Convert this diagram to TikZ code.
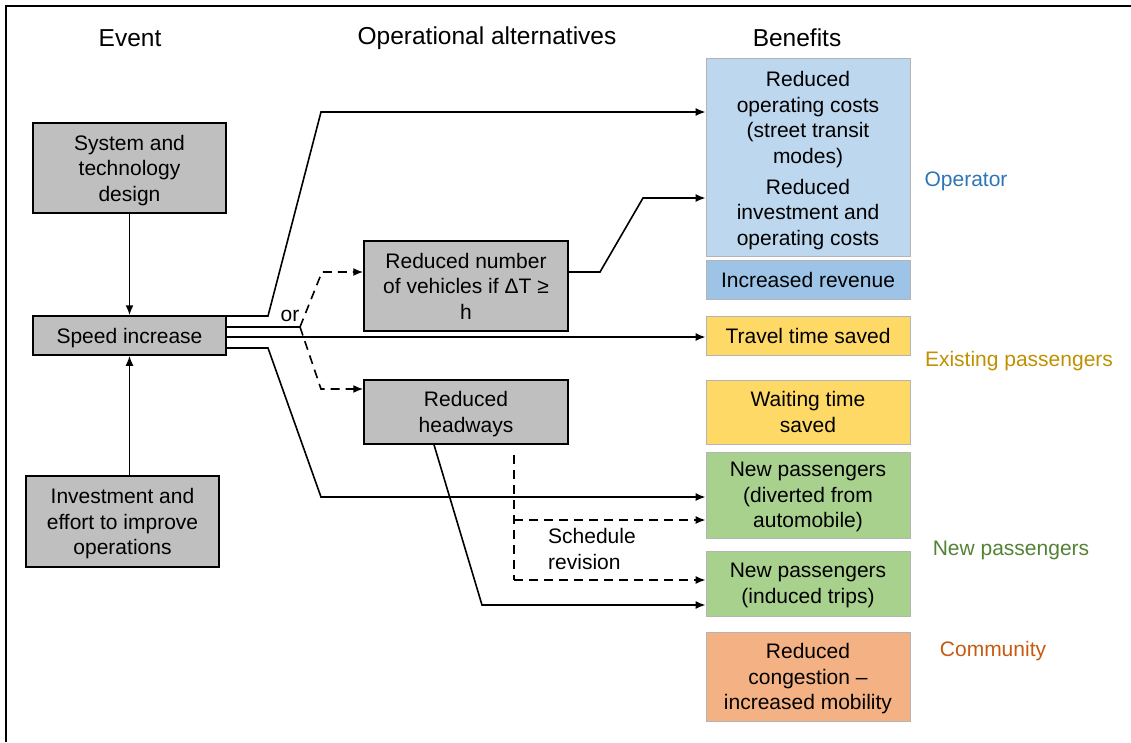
\documentclass[tikz,border=0pt]{standalone}
\usepackage{fontspec}
\setmainfont{Liberation Sans}
\usetikzlibrary{arrows.meta,calc}
\definecolor{gfill}{HTML}{BFBFBF}
\definecolor{bord}{HTML}{B4B4B4}
\definecolor{lblue}{HTML}{BDD7EE}
\definecolor{mblue}{HTML}{9DC3E6}
\definecolor{yel}{HTML}{FFD966}
\definecolor{grn}{HTML}{A9D18E}
\definecolor{org}{HTML}{F4B183}
\definecolor{copr}{HTML}{2E75B6}
\definecolor{cexi}{HTML}{BF9000}
\definecolor{cnew}{HTML}{548235}
\definecolor{ccom}{HTML}{C55A11}
\begin{document}
\begin{tikzpicture}[x=1pt,y=-1pt,
  txt/.style={font=\fontsize{21}{25.5}\selectfont, align=center, inner sep=0pt, text depth=0pt},
  head/.style={font=\fontsize{24.5}{28}\selectfont, inner sep=0pt},
  gbox/.style={txt, draw=black, line width=1.5pt, fill=gfill},
  bbox/.style={txt, draw=bord, line width=0.8pt, minimum width=204pt},
  plain/.style={line width=1.6pt},
  conn/.style={plain, -{Latex[length=10pt,width=8pt]}},
  dplain/.style={plain, dash pattern=on 9pt off 6pt},
  dconn/.style={conn, dash pattern=on 9pt off 6pt},
  side/.style={font=\fontsize{21}{25}\selectfont, inner sep=0pt}]
\useasboundingbox (0,0) rectangle (1131,742);
\draw[line width=1.5pt] (6,742) -- (6,6) -- (1131,6);

% headings
\node[head] (hev) at (130,38) {Event};
\node[head] (hop) at (487,38) {Operational alternatives};
\node[head] (hbe) at (797,38) {Benefits};

% event boxes
\node[gbox, minimum width=193pt, minimum height=90pt] (sys) at (129.5,168) {System and\\technology\\design};
\node[gbox, minimum width=193pt, minimum height=39pt] (speed) at (129.5,335.5) {Speed increase};
\node[gbox, minimum width=193pt, minimum height=91pt] (inv) at (122.5,521.5) {Investment and\\effort to improve\\operations};

% alternatives
\node[gbox, minimum width=204pt, minimum height=90pt] (rnv) at (466,286) {Reduced number\\of vehicles if ΔT ≥\\h};
\node[gbox, minimum width=204pt, minimum height=64pt] (rh) at (466,412) {Reduced\\headways};

% benefits
\node[bbox, fill=lblue, minimum height=198pt] (op) at (808,157) {};
\node[txt] (op1) at (808,117.5) {Reduced\\operating costs\\(street transit\\modes)};
\node[txt] (op2) at (808,212) {Reduced\\investment and\\operating costs};
\node[bbox, fill=mblue, minimum height=39pt] (rev) at (808,279.5) {Increased revenue};
\node[bbox, fill=yel, minimum height=39pt] (tts) at (808,335.5) {Travel time saved};
\node[bbox, fill=yel, minimum height=64pt] (wts) at (808,412) {Waiting time\\saved};
\node[bbox, fill=grn, minimum height=86pt] (np1) at (808,495) {New passengers\\(diverted from\\automobile)};
\node[bbox, fill=grn, minimum height=65pt] (np2) at (808,583.5) {New passengers\\(induced trips)};
\node[bbox, fill=org, minimum height=89pt] (rc) at (808,676.5) {Reduced\\congestion –\\increased mobility};

% side labels
\node[side, text=copr] (lop) at (966,181) {Operator};
\node[side, text=cexi] (lex) at (1019,361) {Existing passengers};
\node[side, text=cnew] (lnp) at (1011,550) {New passengers};
\node[side, text=ccom] (lco) at (993,651) {Community};

% vertical arrows
\draw[conn] (sys.south -| speed.south) -- (speed.north);
\draw[conn] (speed.south |- inv.north) -- (speed.south);

% speed increase connectors
\draw[conn] (speed.east |- 0,316) -- (268,316) -- (321,112) -- (op.west |- 0,112);
\coordinate (orj) at (300,327);
\draw[plain] (speed.east |- orj) -- (orj);
\draw[dconn] (orj) -- (322,272) -- (rnv.west |- 0,272);
\draw[dconn] (orj) -- (321,389) -- (rh.west |- 0,389);
\node[txt] (or) at (290,316) {or};
\draw[conn] (speed.east |- 0,337) -- (tts.west |- 0,337);
\draw[conn] (speed.east |- 0,348) -- (268,348) -- (321,497) -- (np1.west |- 0,497);

% alternatives connectors
\draw[conn] (rnv.east |- 0,272) -- (600,272) -- (643,198) -- (op.west |- 0,198);
\draw[conn] (rh.south -| 434,0) -- (482,605) -- (np2.west |- 0,605);

% schedule revision
\coordinate (sr1) at (514,455);
\coordinate (srm) at (514,520);
\coordinate (sr2) at (514,580);
\draw[dplain] (sr1) -- (sr2);
\draw[dconn] (srm) -- (np1.west |- srm);
\draw[dconn] (sr2) -- (np2.west |- sr2);
\node[txt, align=left, anchor=west] (srl) at (548,549) {Schedule\\revision};
\end{tikzpicture}
\end{document}
